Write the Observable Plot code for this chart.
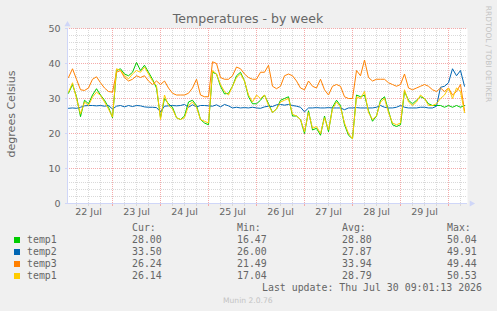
<!DOCTYPE html>
<html><head><meta charset="utf-8">
<script src="https://cdn.jsdelivr.net/npm/d3@7"></script>
<script src="https://cdn.jsdelivr.net/npm/@observablehq/plot@0.6"></script>
<style>
html,body{margin:0;padding:0;background:#f0f0f0;}
#wrap{position:relative;width:497px;height:311px;background:#f0f0f0;overflow:hidden;color:#666;}
#wrap svg{position:absolute;left:0;top:0;}
.t{position:absolute;white-space:pre;}
.sans{font-family:"DejaVu Sans",sans-serif;}
.mono{font-family:"DejaVu Sans Mono",monospace;}
</style></head>
<body><div id="wrap"></div>
<script>
// ---- data (one value every 2 hours from Jul 22 02:00) ----
const temp1Green = [
31.5,34.0,30.5,24.8,29.5,28.5,31.0,32.8,31.0,29.5,
27.5,24.5,38.0,38.5,37.0,36.5,37.5,40.3,38.0,39.5,
37.5,35.5,33.0,24.5,30.0,28.5,27.5,24.5,24.0,25.0,
29.0,29.5,28.0,24.0,23.0,22.5,37.5,37.0,33.5,31.3,
31.5,33.5,36.5,37.5,35.0,30.5,28.5,28.5,29.5,31.0,
28.5,26.0,27.0,29.5,30.0,30.5,25.0,25.0,24.0,20.0,
26.5,21.0,21.5,19.5,25.0,20.5,27.5,29.5,28.0,22.5,
19.5,18.5,31.0,30.5,31.0,26.5,23.5,25.0,29.5,30.5,
26.5,22.5,22.0,22.5,32.0,29.5,28.5,29.5,30.5,30.0,
28.5,28.0,28.0,28.0,27.5,28.0,27.5,28.0,27.5,28.0];
const temp2Blue = [
27.2,27.3,27.2,27.5,27.9,28.0,28.0,27.9,28.0,27.8,
28.0,27.0,27.8,28.0,27.6,28.0,27.7,28.0,27.9,27.6,
27.5,27.5,27.4,26.2,27.8,27.9,28.0,27.9,28.0,28.3,
27.5,28.2,27.6,28.0,28.0,27.9,27.8,28.2,27.6,28.3,
27.9,27.3,27.5,27.3,27.4,27.3,27.5,27.3,27.2,27.6,
27.8,27.7,28.2,28.3,28.1,28.3,28.0,27.8,27.5,26.2,
27.3,27.3,27.4,27.3,27.3,27.4,27.3,27.3,27.3,26.8,
27.3,27.3,27.4,27.3,27.3,27.3,27.3,27.5,28.0,27.5,
27.3,27.3,27.5,28.0,27.5,27.3,27.3,27.3,27.5,27.5,
27.3,27.3,27.8,33.2,33.5,34.5,38.5,36.5,38.0,33.5];
const temp3Orange = [
36.0,38.5,35.5,32.5,32.3,33.0,35.5,36.2,34.5,33.0,
32.0,31.8,37.5,38.0,36.0,35.0,35.5,36.5,36.0,36.5,
35.0,34.0,35.0,34.0,35.0,33.0,31.5,31.0,31.0,31.0,
31.5,33.0,35.5,31.0,30.5,30.5,40.5,40.0,36.0,35.5,
35.5,36.5,39.0,38.5,37.0,36.0,35.5,35.5,37.5,37.5,
39.5,33.5,32.8,33.5,36.5,37.0,36.5,35.0,33.0,32.5,
35.0,33.5,33.0,35.5,32.5,31.0,33.5,34.0,33.5,30.5,
30.0,30.0,38.0,36.5,41.0,36.0,35.0,35.5,35.5,35.5,
34.5,34.0,33.5,34.0,37.0,33.0,32.5,33.0,33.5,34.0,
33.5,32.5,32.0,33.0,32.0,33.0,31.0,32.0,34.0,26.5];
const temp1Yellow = [
31.8,34.5,30.0,25.6,29.0,28.0,30.4,31.8,30.9,29.0,
27.0,24.7,38.5,38.0,36.6,35.6,37.0,38.0,37.5,39.0,
37.0,35.0,33.7,24.0,31.0,28.0,27.0,24.5,24.0,24.5,
28.0,29.0,27.5,24.0,23.5,23.0,38.0,37.0,34.0,32.0,
31.0,33.5,36.0,37.0,35.0,31.0,29.0,31.0,30.0,31.0,
28.0,26.0,27.0,29.0,29.5,30.0,25.5,25.0,24.0,20.5,
26.0,21.5,22.0,20.0,24.5,21.0,27.0,29.0,27.5,23.0,
20.0,18.5,30.5,30.0,32.0,26.0,24.0,25.0,29.0,30.0,
26.0,23.0,22.5,23.0,32.5,29.0,28.0,29.0,31.0,30.0,
28.0,28.0,28.5,30.0,31.0,33.0,30.0,33.0,32.0,26.0];

const dayLabels = ["22 Jul","23 Jul","24 Jul","25 Jul","26 Jul","27 Jul","28 Jul","29 Jul"];
const yTicks = [0,10,20,30,40,50];
const legendNames = ["temp1","temp2","temp3","temp1"];
const legendCur = ["28.00","33.50","26.24","26.14"];
const legendMin = ["16.47","26.00","21.49","17.04"];
const legendAvg = ["28.80","27.87","33.94","28.79"];
const legendMax = ["50.04","49.91","49.44","50.53"];
const seriesColors = ["#00cc00","#0066b3","#ff8000","#ffcc00"];

// ---- build ----
const t0 = Date.UTC(2026,6,22,2);
const times = temp1Green.map((_, i) => new Date(t0 + i * 7200e3));
const rows = times.map((t, i) => ({t, g: temp1Green[i], b: temp2Blue[i], o: temp3Orange[i], y: temp1Yellow[i]}));
const xStart = new Date(Date.UTC(2026,6,22,1,30));
const xEnd = new Date(Date.UTC(2026,6,30,9,30));
const dayLines = d3.utcDay.range(xStart, xEnd);
const minorX = d3.utcHour.every(6).range(xStart, xEnd).filter(d => d.getUTCHours() !== 0);
const noonTicks = d3.utcDay.range(d3.utcDay.floor(xStart), xEnd).map(d => d3.utcHour.offset(d, 12)).slice(0, dayLabels.length);
const minorY = d3.range(2, 50, 2).filter(v => v % 10 !== 0);
const majorY = [10,20,30,40,50];
const gridGray = "#d9d9d9", gridRed = "#f4aaaa", axisCol = "#cfd6f8";

const chart = Plot.plot({
  width: 497, height: 222,
  marginLeft: 67, marginRight: 30, marginTop: 28, marginBottom: 19,
  style: {background: "transparent", fontFamily: "DejaVu Sans", fontSize: "9.5px", color: "#666", overflow: "visible"},
  x: {type: "utc", domain: [xStart, xEnd], round: true},
  y: {domain: [0, 50]},
  marks: [
    Plot.frame({fill: "white", stroke: null}),
    Plot.ruleY(minorY, {stroke: gridGray, strokeDasharray: "1,1"}),
    Plot.ruleX(minorX, {stroke: gridGray, strokeDasharray: "1,1"}),
    Plot.ruleY(majorY, {stroke: gridRed, strokeDasharray: "1,1"}),
    Plot.ruleX(dayLines, {stroke: gridRed, strokeDasharray: "1,1"}),
    Plot.axisX(minorX, {tickSize: 3, tickFormat: () => "", stroke: gridGray, label: null}),
    Plot.axisX(dayLines, {tickSize: 3, tickFormat: () => "", stroke: gridRed, label: null}),
    Plot.axisX(noonTicks, {tickSize: 0, tickPadding: 5, label: null,
      tickFormat: d => dayLabels[noonTicks.findIndex(n => +n === +d)]}),
    Plot.axisY(yTicks, {tickSize: 2, tickPadding: 5, stroke: axisCol, label: null}),
    Plot.ruleY([0], {stroke: axisCol}),
    Plot.ruleX([xStart], {stroke: axisCol}),
    Plot.dot([xStart], {x: d => d, y: () => 50, symbol: "triangle", r: 2.3, fill: axisCol, stroke: null, dy: -4}),
    Plot.dot([xEnd], {x: d => d, y: () => 0, symbol: "triangle", r: 2.3, fill: axisCol, stroke: null, dx: 4, rotate: 90}),
    Plot.line(rows, {x: "t", y: "g", stroke: seriesColors[0], strokeWidth: 1}),
    Plot.line(rows, {x: "t", y: "b", stroke: seriesColors[1], strokeWidth: 1}),
    Plot.line(rows, {x: "t", y: "o", stroke: seriesColors[2], strokeWidth: 1}),
    Plot.line(rows, {x: "t", y: "y", stroke: seriesColors[3], strokeWidth: 1})
  ]
});
const wrap = document.getElementById("wrap");
wrap.appendChild(chart);

function put(text, x, baseline, size, cls, color, extra) {
  const d = document.createElement("div");
  d.className = "t " + cls;
  d.textContent = text;
  d.style.left = x + "px";
  d.style.top = (baseline - 0.846 * size) + "px";
  d.style.fontSize = size + "px";
  d.style.lineHeight = size + "px";
  if (color) d.style.color = color;
  if (extra) Object.assign(d.style, extra);
  wrap.appendChild(d);
  return d;
}
// title
put("Temperatures - by week", 248, 23.5, 12.5, "sans", "#666", {transform: "translateX(-50%)"});
// y label
const yl = document.createElement("div");
yl.className = "t sans"; yl.textContent = "degrees Celsius";
Object.assign(yl.style, {left: "11px", top: "114px", fontSize: "11px", lineHeight: "11px", transform: "translate(-50%,-50%) rotate(-90deg)"});
wrap.appendChild(yl);
// side watermark
const wm = document.createElement("div");
wm.className = "t sans"; wm.textContent = "RRDTOOL / TOBI OETIKER";
Object.assign(wm.style, {left: "487.5px", top: "53.5px", fontSize: "7.5px", lineHeight: "7.5px", color: "#c4c4c4", transform: "translate(-50%,-50%) rotate(90deg)"});
wrap.appendChild(wm);
// legend
const fs = 9.9;
const cols = [132, 237, 342, 447];
["Cur:","Min:","Avg:","Max:"].forEach((h, j) => put(h, cols[j], 231, fs, "mono"));
legendNames.forEach((name, i) => {
  const bl = 243.5 + i * 11.9;
  const sq = document.createElement("div");
  Object.assign(sq.style, {position: "absolute", left: "14px", top: (bl - 6.5) + "px", width: "6px", height: "6px", background: seriesColors[i]});
  wrap.appendChild(sq);
  put(name, 27, bl, fs, "mono");
  [legendCur, legendMin, legendAvg, legendMax].forEach((arr, j) => put(arr[i], cols[j], bl, fs, "mono"));
});
put("Last update: Thu Jul 30 09:01:13 2026", 262, 291.5, fs, "mono");
put("Munin 2.0.76", 223, 303, 7.6, "sans", "#c4c4c4");
</script></body></html>
